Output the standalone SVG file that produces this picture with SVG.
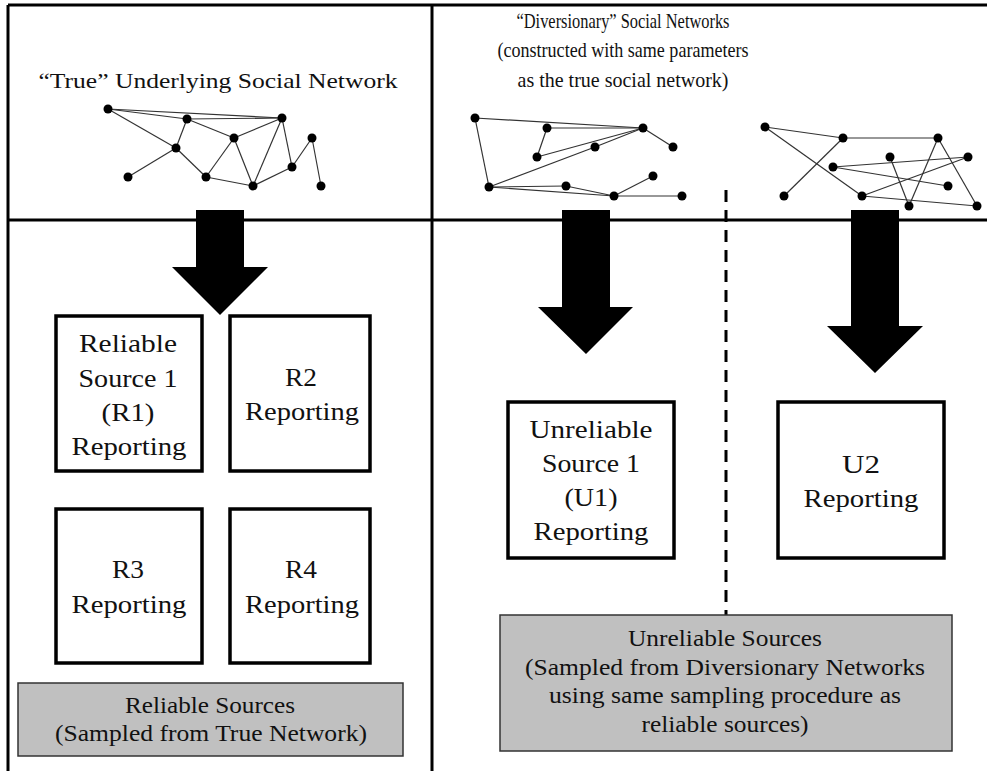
<svg xmlns="http://www.w3.org/2000/svg" width="987" height="771" viewBox="0 0 987 771">
<style>
.frame{stroke:#000;stroke-width:3;fill:none}
.box{fill:#fff;stroke:#000;stroke-width:3.5}
.gray{fill:#c0c0c0;stroke:#333;stroke-width:1.5}
.t{font-family:"Liberation Serif","Times New Roman",serif;fill:#111;text-anchor:middle}
.bt{font-size:26px}
.gt{font-size:24px}
.tt{font-size:22px}
.dt{font-size:21px}
.e{stroke:#333;stroke-width:1.2;fill:none}
.n{fill:#000}
.arrow{fill:#000}
.dash{stroke:#000;stroke-width:3;stroke-dasharray:12 8;fill:none}
</style>
<rect width="987" height="771" fill="#fff"/>
<g id="frame">
<line class="frame" x1="8" y1="5" x2="987" y2="5"/>
<line class="frame" x1="8" y1="5" x2="8" y2="771"/>
<line class="frame" x1="432" y1="5" x2="432" y2="771"/>
<line class="frame" x1="8" y1="220" x2="987" y2="220"/>
<line class="dash" x1="726" y1="190" x2="726" y2="615"/>
</g>
<g id="title-true">
<text class="t tt" x="218" y="88" textLength="359" lengthAdjust="spacingAndGlyphs">“True” Underlying Social Network</text>
</g>
<g id="title-diversionary">
<text class="t dt" x="623" y="28" textLength="213" lengthAdjust="spacingAndGlyphs">“Diversionary” Social Networks</text>
<text class="t dt" x="623" y="57" textLength="251" lengthAdjust="spacingAndGlyphs">(constructed with same parameters</text>
<text class="t dt" x="623" y="87" textLength="211" lengthAdjust="spacingAndGlyphs">as the true social network)</text>
</g>
<g id="network-true">
<g class="e">
<line x1="108" y1="109" x2="282" y2="118"/>
<line x1="108" y1="109" x2="187" y2="119"/>
<line x1="187" y1="119" x2="282" y2="118"/>
<line x1="108" y1="109" x2="176" y2="148"/>
<line x1="187" y1="119" x2="176" y2="148"/>
<line x1="187" y1="119" x2="234" y2="138"/>
<line x1="234" y1="138" x2="282" y2="118"/>
<line x1="176" y1="148" x2="128" y2="177"/>
<line x1="176" y1="148" x2="206" y2="177"/>
<line x1="206" y1="177" x2="234" y2="138"/>
<line x1="234" y1="138" x2="253" y2="186"/>
<line x1="206" y1="177" x2="253" y2="186"/>
<line x1="253" y1="186" x2="282" y2="118"/>
<line x1="282" y1="118" x2="292" y2="167"/>
<line x1="253" y1="186" x2="292" y2="167"/>
<line x1="292" y1="167" x2="312" y2="138"/>
<line x1="312" y1="138" x2="321" y2="186"/>
</g>
<g class="n">
<circle cx="108" cy="109" r="4.5"/><circle cx="187" cy="119" r="4.5"/><circle cx="282" cy="118" r="4.5"/>
<circle cx="234" cy="138" r="4.5"/><circle cx="176" cy="148" r="4.5"/><circle cx="312" cy="138" r="4.5"/>
<circle cx="128" cy="177" r="4.5"/><circle cx="206" cy="177" r="4.5"/><circle cx="292" cy="167" r="4.5"/>
<circle cx="253" cy="186" r="4.5"/><circle cx="321" cy="186" r="4.5"/>
</g>
</g>
<g id="network-div1">
<g class="e">
<line x1="475" y1="118" x2="643" y2="128"/>
<line x1="475" y1="118" x2="489" y2="187"/>
<line x1="547" y1="128" x2="643" y2="128"/>
<line x1="547" y1="128" x2="537" y2="157"/>
<line x1="537" y1="157" x2="643" y2="128"/>
<line x1="489" y1="187" x2="595" y2="147"/>
<line x1="595" y1="147" x2="643" y2="128"/>
<line x1="643" y1="128" x2="673" y2="147"/>
<line x1="489" y1="187" x2="566" y2="186"/>
<line x1="566" y1="186" x2="614" y2="196"/>
<line x1="489" y1="187" x2="614" y2="196"/>
<line x1="614" y1="196" x2="653" y2="176"/>
<line x1="614" y1="196" x2="682" y2="196"/>
</g>
<g class="n">
<circle cx="475" cy="118" r="4.5"/><circle cx="547" cy="128" r="4.5"/><circle cx="643" cy="128" r="4.5"/>
<circle cx="673" cy="147" r="4.5"/><circle cx="537" cy="157" r="4.5"/><circle cx="595" cy="147" r="4.5"/>
<circle cx="489" cy="187" r="4.5"/><circle cx="566" cy="186" r="4.5"/><circle cx="653" cy="176" r="4.5"/>
<circle cx="614" cy="196" r="4.5"/><circle cx="682" cy="196" r="4.5"/>
</g>
</g>
<g id="network-div2">
<g class="e">
<line x1="765" y1="127" x2="843" y2="138"/>
<line x1="765" y1="127" x2="862" y2="196"/>
<line x1="843" y1="138" x2="784" y2="196"/>
<line x1="843" y1="138" x2="938" y2="138"/>
<line x1="938" y1="138" x2="909" y2="206"/>
<line x1="938" y1="138" x2="977" y2="206"/>
<line x1="890" y1="157" x2="909" y2="206"/>
<line x1="833" y1="167" x2="968" y2="157"/>
<line x1="833" y1="167" x2="948" y2="186"/>
<line x1="862" y1="196" x2="968" y2="157"/>
<line x1="862" y1="196" x2="977" y2="206"/>
</g>
<g class="n">
<circle cx="765" cy="127" r="4.5"/><circle cx="843" cy="138" r="4.5"/><circle cx="938" cy="138" r="4.5"/>
<circle cx="890" cy="157" r="4.5"/><circle cx="968" cy="157" r="4.5"/><circle cx="833" cy="167" r="4.5"/>
<circle cx="784" cy="196" r="4.5"/><circle cx="948" cy="186" r="4.5"/><circle cx="862" cy="196" r="4.5"/>
<circle cx="909" cy="206" r="4.5"/><circle cx="977" cy="206" r="4.5"/>
</g>
</g>
<g id="connectors">
<polygon class="arrow" points="196,210 244,210 244,267 268,267 220,315 172,267 196,267"/>
<polygon class="arrow" points="562,210 610,210 610,307 633,307 586,354 538,307 562,307"/>
<polygon class="arrow" points="851,210 899,210 899,326 923,326 875,373 827,326 851,326"/>
</g>
<g id="R1">
<rect class="box" x="56" y="316" width="146" height="155"/>
<text class="t bt" x="128" y="352" textLength="98" lengthAdjust="spacingAndGlyphs">Reliable</text>
<text class="t bt" x="128" y="387" textLength="99" lengthAdjust="spacingAndGlyphs">Source 1</text>
<text class="t bt" x="128" y="421" textLength="53" lengthAdjust="spacingAndGlyphs">(R1)</text>
<text class="t bt" x="129" y="455" textLength="115" lengthAdjust="spacingAndGlyphs">Reporting</text>
</g>
<g id="R2">
<rect class="box" x="230" y="316" width="140" height="155"/>
<text class="t bt" x="301" y="386" textLength="32" lengthAdjust="spacingAndGlyphs">R2</text>
<text class="t bt" x="302" y="420" textLength="114" lengthAdjust="spacingAndGlyphs">Reporting</text>
</g>
<g id="R3">
<rect class="box" x="56" y="509" width="146" height="154"/>
<text class="t bt" x="128" y="578" textLength="32" lengthAdjust="spacingAndGlyphs">R3</text>
<text class="t bt" x="129" y="613" textLength="115" lengthAdjust="spacingAndGlyphs">Reporting</text>
</g>
<g id="R4">
<rect class="box" x="230" y="509" width="140" height="154"/>
<text class="t bt" x="301" y="578" textLength="32" lengthAdjust="spacingAndGlyphs">R4</text>
<text class="t bt" x="302" y="613" textLength="114" lengthAdjust="spacingAndGlyphs">Reporting</text>
</g>
<g id="U1">
<rect class="box" x="508" y="402" width="166" height="156"/>
<text class="t bt" x="591" y="438" textLength="123" lengthAdjust="spacingAndGlyphs">Unreliable</text>
<text class="t bt" x="591" y="472" textLength="98" lengthAdjust="spacingAndGlyphs">Source 1</text>
<text class="t bt" x="591" y="506" textLength="53" lengthAdjust="spacingAndGlyphs">(U1)</text>
<text class="t bt" x="591" y="540" textLength="115" lengthAdjust="spacingAndGlyphs">Reporting</text>
</g>
<g id="U2">
<rect class="box" x="778" y="402" width="166" height="156"/>
<text class="t bt" x="861" y="473" textLength="38" lengthAdjust="spacingAndGlyphs">U2</text>
<text class="t bt" x="861" y="507" textLength="115" lengthAdjust="spacingAndGlyphs">Reporting</text>
</g>
<g id="reliable-sources">
<rect class="gray" x="18" y="683" width="385" height="73"/>
<text class="t gt" x="210" y="713" textLength="170" lengthAdjust="spacingAndGlyphs">Reliable Sources</text>
<text class="t gt" x="211" y="741" textLength="312" lengthAdjust="spacingAndGlyphs">(Sampled from True Network)</text>
</g>
<g id="unreliable-sources">
<rect class="gray" x="500" y="615" width="452" height="136"/>
<text class="t gt" x="725" y="646" textLength="194" lengthAdjust="spacingAndGlyphs">Unreliable Sources</text>
<text class="t gt" x="725" y="675" textLength="400" lengthAdjust="spacingAndGlyphs">(Sampled from Diversionary Networks</text>
<text class="t gt" x="725" y="703" textLength="352" lengthAdjust="spacingAndGlyphs">using same sampling procedure as</text>
<text class="t gt" x="725" y="732" textLength="167" lengthAdjust="spacingAndGlyphs">reliable sources)</text>
</g>
</svg>
